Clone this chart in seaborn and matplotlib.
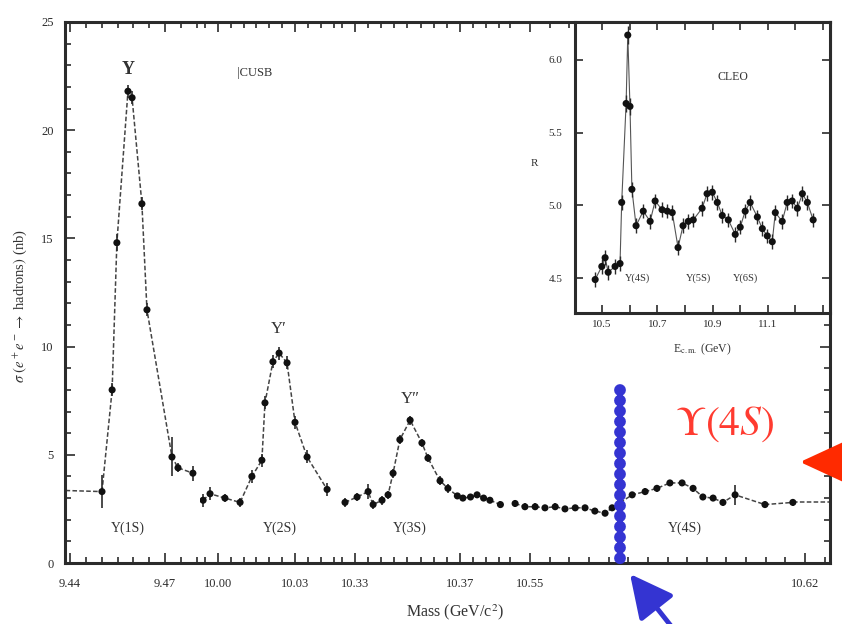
import matplotlib
matplotlib.use("Agg")
import matplotlib.pyplot as plt
import seaborn as sns
from matplotlib.ticker import FixedLocator, MultipleLocator

# ---------------- data (CUSB scan, four mass windows) ----------------
seg1_mass = [9.4501, 9.4533, 9.4548, 9.4583, 9.4596, 9.4627, 9.4643, 9.4722, 9.4741, 9.4788]
seg1_sigma = [3.3, 8.0, 14.8, 21.8, 21.5, 16.6, 11.7, 4.9, 4.4, 4.15]
seg1_err = [0.75, 0.3, 0.4, 0.3, 0.3, 0.3, 0.3, 0.9, 0.2, 0.35]
seg1_lead_mass = [9.4386, 9.4501]
seg1_lead_sigma = [3.35, 3.3]

seg2_mass = [9.9942, 9.9969, 10.0027, 10.0086, 10.0132, 10.0171, 10.0183, 10.0214,
             10.0238, 10.0269, 10.0300, 10.0347, 10.0425]
seg2_sigma = [2.9, 3.2, 3.0, 2.8, 4.0, 4.75, 7.4, 9.3, 9.7, 9.25, 6.5, 4.9, 3.4]
seg2_err = [0.3, 0.3, 0.2, 0.2, 0.3, 0.3, 0.3, 0.3, 0.3, 0.3, 0.3, 0.3, 0.3]

seg3_mass = [10.3262, 10.3308, 10.3350, 10.3369, 10.3403, 10.3426, 10.3445, 10.3471, 10.3510,
             10.3555, 10.3578, 10.3624, 10.3654, 10.3690, 10.3711, 10.3740, 10.3765,
             10.3790, 10.3814, 10.3854]
seg3_sigma = [2.8, 3.05, 3.3, 2.7, 2.9, 3.15, 4.15, 5.7, 6.6, 5.55, 4.85, 3.8, 3.45,
              3.1, 3.0, 3.05, 3.15, 3.0, 2.9, 2.7]
seg3_err = [0.2, 0.2, 0.35, 0.2, 0.2, 0.2, 0.2, 0.2, 0.2, 0.2, 0.2, 0.2, 0.2,
            0.15, 0.15, 0.15, 0.15, 0.15, 0.15, 0.15]

seg4_mass = [10.5462, 10.5487, 10.5513, 10.5538, 10.5564, 10.5589, 10.5615, 10.5640,
             10.5665, 10.5691, 10.5709, 10.5760, 10.5793, 10.5823, 10.5856, 10.5887,
             10.5915, 10.5940, 10.5966, 10.5991, 10.6022, 10.6098, 10.6169]
seg4_sigma = [2.75, 2.6, 2.6, 2.55, 2.6, 2.5, 2.55, 2.55, 2.4, 2.3, 2.55, 3.15, 3.3,
              3.45, 3.7, 3.7, 3.45, 3.05, 3.0, 2.8, 3.15, 2.7, 2.8]
seg4_err = [0.15, 0.15, 0.15, 0.15, 0.15, 0.15, 0.15, 0.15, 0.15, 0.15, 0.15, 0.15, 0.15,
            0.15, 0.15, 0.15, 0.15, 0.15, 0.15, 0.15, 0.45, 0.15, 0.15]
seg4_tail_mass = [10.6169, 10.6264]
seg4_tail_sigma = [2.8, 2.8]

seg_xlim = [(9.43842, 9.4801), (9.99299, 10.04636), (10.32429, 10.38829), (10.5449, 10.62636)]
seg_ticks = [[9.44, 9.47], [10.00, 10.03], [10.33, 10.37], [10.55, 10.62]]
seg_ticklabels = [["9.44", "9.47"], ["10.00", "10.03"], ["10.33", "10.37"], ["10.55", "10.62"]]
y_ticks = [0, 5, 10, 15, 20, 25]

# CLEO inset: R vs E_cm
cleo_E = [10.475, 10.499, 10.511, 10.522, 10.547, 10.565, 10.571, 10.587, 10.593, 10.601,
          10.608, 10.623, 10.649, 10.674, 10.692, 10.717, 10.736, 10.754, 10.775, 10.793,
          10.812, 10.830, 10.862, 10.880, 10.899, 10.917, 10.935, 10.957, 10.982, 11.000,
          11.018, 11.036, 11.062, 11.080, 11.098, 11.116, 11.127, 11.152, 11.170, 11.188,
          11.207, 11.225, 11.243, 11.264]
cleo_R = [4.49, 4.58, 4.64, 4.54, 4.58, 4.60, 5.02, 5.70, 6.17, 5.68,
          5.11, 4.86, 4.96, 4.89, 5.03, 4.97, 4.96, 4.95, 4.71, 4.86,
          4.89, 4.90, 4.98, 5.08, 5.09, 5.02, 4.93, 4.90, 4.80, 4.85,
          4.96, 5.02, 4.92, 4.84, 4.79, 4.75, 4.95, 4.89, 5.02, 5.03,
          4.98, 5.08, 5.02, 4.90]
cleo_err = [0.05] * 6 + [0.05, 0.06, 0.06, 0.06] + [0.05] * 34

marker_mass = 10.5729
marker_top = 8.0
marker_bottom = 0.05

# ---------------- style ----------------
sns.set_theme(style="ticks")
plt.rcParams["font.family"] = ["Liberation Serif", "DejaVu Serif"]
plt.rcParams["mathtext.fontset"] = "stix"

W, H = 842, 624
fig = plt.figure(figsize=(W / 100, H / 100), dpi=100)
fig.patch.set_facecolor("white")

def rect(x0, y0, x1, y1):
    return [x0 / W, 1 - y1 / H, (x1 - x0) / W, (y1 - y0) / H]

ink = "#2b2b2b"
seg_px = [(65, 197), (200, 337), (340, 508), (510, 830)]
segs = [(seg1_mass, seg1_sigma, seg1_err), (seg2_mass, seg2_sigma, seg2_err),
        (seg3_mass, seg3_sigma, seg3_err), (seg4_mass, seg4_sigma, seg4_err)]
axes = []
for i, ((x0, x1), (m, s, e)) in enumerate(zip(seg_px, segs)):
    ax = fig.add_axes(rect(x0, 22, x1, 563))
    ax.set_facecolor("none")
    sns.lineplot(x=m, y=s, ax=ax, color="#444444", lw=1.1, linestyle=(0, (3, 1.5)),
                 sort=False, estimator=None)
    ax.errorbar(m, s, yerr=e, fmt="none", ecolor=ink, elinewidth=1.2, capsize=0)
    sns.scatterplot(x=m, y=s, ax=ax, color="#111111", s=26, edgecolor="none", zorder=5)
    ax.set_xlim(*seg_xlim[i])
    ax.set_ylim(0, 25)
    ax.xaxis.set_major_locator(FixedLocator(seg_ticks[i]))
    ax.set_xticklabels(seg_ticklabels[i])
    ax.xaxis.set_minor_locator(MultipleLocator(0.005))
    ax.yaxis.set_major_locator(FixedLocator(y_ticks))
    ax.yaxis.set_minor_locator(MultipleLocator(1))
    ax.tick_params(which="both", direction="in", top=True, bottom=True, colors=ink,
                   labelsize=9, width=1.2)
    ax.tick_params(which="major", length=7)
    ax.tick_params(which="minor", length=4)
    ax.tick_params(axis="x", pad=11)
    for sp in ax.spines.values():
        sp.set_linewidth(2.2)
        sp.set_color(ink)
    ax.set_xlabel("")
    ax.set_ylabel("")
    if i == 0:
        ax.spines["right"].set_visible(False)
        ax.tick_params(axis="y", which="both", left=True, right=False, labelleft=True)
        ax.tick_params(axis="y", pad=8)
    elif i == 3:
        ax.spines["left"].set_visible(False)
        ax.tick_params(axis="y", which="both", left=False, right=True, labelleft=False)
    else:
        ax.spines["left"].set_visible(False)
        ax.spines["right"].set_visible(False)
        ax.tick_params(axis="y", which="both", left=False, right=False, labelleft=False)
    axes.append(ax)

ax1, ax2, ax3, ax4 = axes
sns.lineplot(x=seg1_lead_mass, y=seg1_lead_sigma, ax=ax1, color="#444444", lw=1.1,
             linestyle=(0, (3, 1.5)), sort=False, estimator=None)
sns.lineplot(x=seg4_tail_mass, y=seg4_tail_sigma, ax=ax4, color="#444444", lw=1.1,
             linestyle=(0, (3, 1.5)), sort=False, estimator=None)

# blue dotted marker line at the Y(4S)
ax4.plot([marker_mass, marker_mass], [marker_top, marker_bottom], color="#3434d2", lw=8.5,
         linestyle=(0, (0.01, 0.88)), dash_capstyle="round", zorder=8, clip_on=False)

# text labels in the main panel
lab = dict(color="#333333", ha="center", va="center")
ax1.text(9.4585, 22.8, "Υ", fontsize=13, fontweight="bold", **lab)
fig.text(255 / W, 1 - 73 / H, "|CUSB", fontsize=9, **lab)
ax2.text(10.0238, 10.8, "Υ′", fontsize=12, **lab)
ax3.text(10.3512, 7.6, "Υ″", fontsize=12, **lab)
ax1.text(9.4583, 1.6, "Υ(1S)", fontsize=10, **lab)
ax2.text(10.0240, 1.6, "Υ(2S)", fontsize=10, **lab)
ax3.text(10.3510, 1.6, "Υ(3S)", fontsize=10, **lab)
ax4.text(10.5893, 1.6, "Υ(4S)", fontsize=10, **lab)

fig.text(20 / W, 1 - 306 / H, r"$\sigma\ (e^+e^- \rightarrow$ hadrons$)$ (nb)",
         rotation=90, fontsize=10.5, ha="center", va="center", color="#333333")
fig.text(455 / W, 1 - 612 / H, "Mass (GeV/c$^2$)", fontsize=11.5, ha="center",
         va="center", color="#333333")

# ---------------- CLEO inset ----------------
ins = fig.add_axes(rect(575, 22, 830, 313))
ins.set_facecolor("white")
ins.set_zorder(10)
sns.lineplot(x=cleo_E, y=cleo_R, ax=ins, color="#555555", lw=0.8, sort=False, estimator=None)
ins.errorbar(cleo_E, cleo_R, yerr=cleo_err, fmt="none", ecolor=ink, elinewidth=1.0)
sns.scatterplot(x=cleo_E, y=cleo_R, ax=ins, color="#111111", s=26, edgecolor="none", zorder=5)
ins.set_xlim(10.402, 11.325)
ins.set_ylim(4.26, 6.26)
ins.xaxis.set_major_locator(FixedLocator([10.5, 10.7, 10.9, 11.1]))
ins.set_xticklabels(["10.5", "10.7", "10.9", "11.1"])
ins.xaxis.set_minor_locator(MultipleLocator(0.1))
ins.yaxis.set_major_locator(FixedLocator([4.5, 5.0, 5.5, 6.0]))
ins.set_yticklabels(["4.5", "5.0", "5.5", "6.0"])
ins.tick_params(which="both", direction="in", top=True, right=True, colors=ink,
                labelsize=8, width=1.2, length=6)
ins.tick_params(axis="x", pad=5)
ins.tick_params(axis="y", pad=9)
for sp in ins.spines.values():
    sp.set_linewidth(2.2)
    sp.set_color(ink)
ins.set_xlabel(r"E$_{\rm c.m.}$ (GeV)", fontsize=8.5, color="#333333", labelpad=9)
ins.set_ylabel("R", fontsize=8, color="#333333", rotation=0, labelpad=10)
ins.text(10.975, 5.88, "CLEO", fontsize=8.5, **lab)
ins.text(10.63, 4.50, "Υ(4S)", fontsize=7.5, **lab)
ins.text(10.85, 4.50, "Υ(5S)", fontsize=7.5, **lab)
ins.text(11.02, 4.50, "Υ(6S)", fontsize=7.5, **lab)

# red label and arrows
fig.text(725 / W, 1 - 424 / H, r"$\Upsilon(4S)$", color="#ff3b30", fontsize=30,
         ha="center", va="center")
fig.add_artist(plt.Annotation("", xy=(800 / W, 1 - 462 / H), xytext=(860 / W, 1 - 462 / H),
                              xycoords="figure fraction", textcoords="figure fraction",
                              arrowprops=dict(arrowstyle="-|>,head_length=2.6,head_width=1.2",
                                              color="#ff2a00", lw=3, shrinkA=0, shrinkB=0),
                              annotation_clip=False))
fig.add_artist(plt.Annotation("", xy=(630 / W, 1 - 574 / H), xytext=(690 / W, 1 - 650 / H),
                              xycoords="figure fraction", textcoords="figure fraction",
                              arrowprops=dict(arrowstyle="-|>,head_length=2.2,head_width=1.1",
                                              color="#3434d2", lw=3.5, shrinkA=0, shrinkB=0),
                              annotation_clip=False))

fig.savefig("out.png", dpi=100, facecolor="white")
